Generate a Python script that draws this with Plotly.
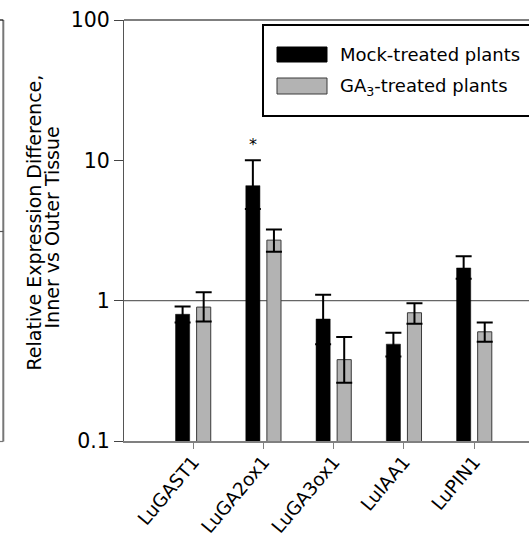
import plotly.graph_objects as go
import numpy as np

# Genes and relative expression (inner vs outer tissue), with error bar limits
genes = ["LuGAST1", "LuGA2ox1", "LuGA3ox1", "LuIAA1", "LuPIN1"]
mock = [0.80, 6.6, 0.74, 0.49, 1.71]
mock_hi = [0.91, 10.0, 1.10, 0.59, 2.07]
mock_lo = [0.70, 4.5, 0.49, 0.40, 1.43]
ga3 = [0.90, 2.70, 0.38, 0.82, 0.60]
ga3_hi = [1.15, 3.21, 0.55, 0.96, 0.70]
ga3_lo = [0.71, 2.23, 0.26, 0.685, 0.51]

y_ticks = [0.1, 1, 10, 100]
y_tick_text = ["0.1", "1", "10", "100"]
y_title_lines = ["Relative Expression Difference,", "Inner vs Outer Tissue"]

FONT = "DejaVu Sans"
GREY = "#b3b3b3"

W, H = 529, 536
ML, MT, MB, MR = 124, 20, 95, 0
PW, PH = W - ML - MR, H - MT - MB


def px(xp):
    return (xp - ML) / PW


def py(yp):
    return (H - MB - yp) / PH


def errs(v, hi, lo):
    return (list(np.array(hi) - np.array(v)), list(np.array(v) - np.array(lo)))


m_up, m_dn = errs(mock, mock_hi, mock_lo)
g_up, g_dn = errs(ga3, ga3_hi, ga3_lo)

fig = go.Figure()
fig.add_trace(go.Bar(
    x=genes, y=mock, name="Mock-treated plants",
    marker=dict(color="black", line=dict(color="black", width=0.5)),
    error_y=dict(type="data", symmetric=False, array=m_up, arrayminus=m_dn,
                 color="black", thickness=2, width=8),
))
fig.add_trace(go.Bar(
    x=genes, y=ga3, name="GA<sub>3</sub>-treated plants",
    marker=dict(color=GREY, line=dict(color="#3a3a3a", width=1)),
    error_y=dict(type="data", symmetric=False, array=g_up, arrayminus=g_dn,
                 color="black", thickness=2, width=8),
))

shapes = [
    # reference line at ratio 1
    dict(type="line", xref="paper", yref="y", x0=0, x1=1, y0=1, y1=1,
         line=dict(color="#666666", width=1.2), layer="below"),
    # top frame line
    dict(type="line", xref="paper", yref="paper", x0=0, x1=1, y0=1, y1=1,
         line=dict(color="black", width=1.2)),
    # right axis of the neighbouring panel
    dict(type="line", xref="paper", yref="paper", x0=px(3.3), x1=px(3.3),
         y0=py(441.5), y1=py(20), line=dict(color="#777777", width=2)),
    dict(type="line", xref="paper", yref="paper", x0=px(0), x1=px(3.3),
         y0=py(20), y1=py(20), line=dict(color="black", width=1.2)),
    dict(type="line", xref="paper", yref="paper", x0=px(0), x1=px(3.3),
         y0=py(231.5), y1=py(231.5), line=dict(color="#555555", width=1.2)),
    dict(type="line", xref="paper", yref="paper", x0=px(0), x1=px(3.3),
         y0=py(441.5), y1=py(441.5), line=dict(color="#777777", width=1.2)),
    # legend box and swatches
    dict(type="rect", xref="paper", yref="paper", x0=px(263), x1=px(560),
         y0=py(116), y1=py(25), line=dict(color="black", width=2),
         fillcolor="white"),
    dict(type="rect", xref="paper", yref="paper", x0=px(277), x1=px(327),
         y0=py(62), y1=py(47), line=dict(color="black", width=1),
         fillcolor="black"),
    dict(type="rect", xref="paper", yref="paper", x0=px(277), x1=px(327),
         y0=py(94), y1=py(78), line=dict(color="#3a3a3a", width=1),
         fillcolor=GREY),
]

annotations = [
    dict(xref="paper", yref="paper", x=px(338), y=py(54.5), xanchor="left",
         yanchor="middle", text="Mock-treated plants", showarrow=False,
         font=dict(family=FONT, size=18, color="black")),
    dict(xref="paper", yref="paper", x=px(338), y=py(87), xanchor="left",
         yanchor="middle", text="GA<sub>3</sub>-treated plants", showarrow=False,
         font=dict(family=FONT, size=18, color="black")),
    # significance marker above the mock LuGA2ox1 bar
    dict(x=genes[1], y=np.log10(mock_hi[1]), xshift=-10.5, yshift=16,
         text="*", showarrow=False, yanchor="middle",
         font=dict(family=FONT, size=16, color="black")),
    # y-axis title, two rotated lines
    dict(xref="paper", yref="paper", x=px(33), y=py(222.5), xanchor="center",
         yanchor="middle", textangle=-90, text=y_title_lines[0], showarrow=False,
         font=dict(family=FONT, size=19, color="black")),
    dict(xref="paper", yref="paper", x=px(51.5), y=py(228), xanchor="center",
         yanchor="middle", textangle=-90, text=y_title_lines[1], showarrow=False,
         font=dict(family=FONT, size=19, color="black")),
]

fig.update_layout(
    width=W, height=H,
    margin=dict(l=ML, r=MR, t=MT, b=MB, pad=0),
    paper_bgcolor="white", plot_bgcolor="white",
    barmode="group", bargap=0.4, bargroupgap=0.33,
    showlegend=False,
    font=dict(family=FONT, color="black"),
    shapes=shapes, annotations=annotations,
)
fig.update_xaxes(
    range=[-0.984, 4.78], showgrid=False, zeroline=False,
    showline=True, linecolor="#808080", linewidth=1.5,
    ticks="outside", ticklen=6, tickcolor="#808080", tickwidth=1,
    tickangle=-50, ticklabelstandoff=-5,
    tickfont=dict(family=FONT, size=18.5, color="black"),
)
fig.update_yaxes(
    type="log", range=[-1, 2], showgrid=False, zeroline=False,
    showline=True, linecolor="#555555", linewidth=1.2,
    ticks="outside", ticklen=9, tickcolor="#444444", tickwidth=1.2,
    tickvals=y_ticks, ticktext=y_tick_text,
    tickfont=dict(family=FONT, size=20.5, color="black"),
    automargin=False,
)

fig.write_html("out.html")
